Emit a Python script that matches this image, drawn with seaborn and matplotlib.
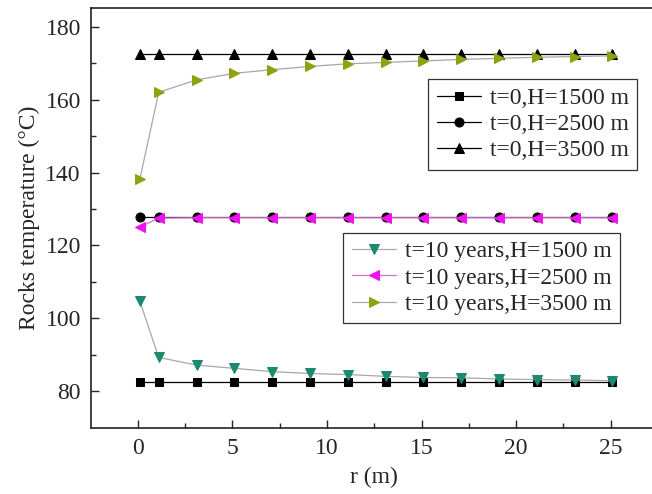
import numpy as np
import pandas as pd
import matplotlib
matplotlib.use("Agg")
import matplotlib.pyplot as plt
import seaborn as sns

r = [0.1, 1.1, 3.1, 5.1, 7.1, 9.1, 11.1, 13.1, 15.1, 17.1, 19.1, 21.1, 23.1, 25.1]

t0_1500 = [82.6] * 14
t0_2500 = [127.8] * 14
t0_3500 = [172.6] * 14
t10_1500 = [104.8, 89.3, 87.2, 86.3, 85.4, 84.9, 84.6, 84.1, 83.8, 83.7, 83.4, 83.2, 83.1, 82.9]
t10_2500 = [125.0, 127.5, 127.6, 127.6, 127.6, 127.6, 127.6, 127.6, 127.6, 127.6, 127.6, 127.6, 127.6, 127.6]
t10_3500 = [138.1, 162.0, 165.4, 167.2, 168.2, 169.1, 169.8, 170.2, 170.6, 171.0, 171.3, 171.6, 171.8, 172.0]

labels0 = ["t=0,H=1500 m", "t=0,H=2500 m", "t=0,H=3500 m"]
labels10 = ["t=10 years,H=1500 m", "t=10 years,H=2500 m", "t=10 years,H=3500 m"]

sns.set_style("ticks")
plt.rcParams["font.family"] = ["Liberation Serif", "DejaVu Serif"]
plt.rcParams["mathtext.fontset"] = "stix"

fig = plt.figure(figsize=(6.52, 4.94), dpi=100)
ax = fig.add_axes([0.139, 0.134, 0.870, 0.849])

styles0 = [("s", 6.0), ("o", 6.5), ("^", 7.0)]
h0 = []
for vals, lab, (mk, ms) in zip([t0_1500, t0_2500, t0_3500], labels0, styles0):
    sns.lineplot(x=r, y=vals, ax=ax, color="black", lw=0.9, marker=mk, markersize=ms,
                 markeredgecolor="black", markerfacecolor="black", label=lab, legend=False)
    h0.append(ax.lines[-1])

styles10 = [("v", "#1c8a70", 7.5), ("<", "#f010f0", 7.5), (">", "#8fa010", 7.5)]
h10 = []
for vals, lab, (mk, col, ms) in zip([t10_1500, t10_2500, t10_3500], labels10, styles10):
    sns.lineplot(x=r, y=vals, ax=ax, color="#a8a8a8", lw=0.9, marker=mk, markersize=ms,
                 markeredgecolor=col, markerfacecolor=col, label=lab, legend=False)
    h10.append(ax.lines[-1])
# pink line for 2500 series is tinted
h10[1].set_color("#d070d0")
h10[1].set_markerfacecolor("#f010f0")
h10[1].set_markeredgecolor("#f010f0")

ax.set_xlim(-2.5, 27.5)
ax.set_ylim(70, 185)
ax.set_xticks([0, 5, 10, 15, 20, 25])
ax.set_xticks(np.arange(2.5, 27, 5), minor=True)
ax.set_yticks([80, 100, 120, 140, 160, 180])
ax.set_yticks([90, 110, 130, 150, 170], minor=True)
ax.tick_params(which="major", direction="in", length=6, width=1, labelsize=17, pad=7)
ax.tick_params(which="minor", direction="in", length=3.5, width=1)
ax.tick_params(top=False, right=False)
for s in ax.spines.values():
    s.set_linewidth(1.2)
    s.set_color("#222222")

ax.set_xlabel("r (m)", fontsize=17, labelpad=6)
ax.set_ylabel("Rocks temperature (°C)", fontsize=17, labelpad=4)

leg_kw = dict(fontsize=17, frameon=True, fancybox=False, framealpha=1, edgecolor="#333333",
              handlelength=1.9, handletextpad=0.35, labelspacing=0.2, borderpad=0.35,
              borderaxespad=0)
leg1 = fig.legend(handles=h0, labels=labels0, loc="upper right",
                  bbox_to_anchor=(0.977, 0.840), **leg_kw)
leg2 = fig.legend(handles=h10, labels=labels10, loc="upper left",
                  bbox_to_anchor=(0.5265, 0.529), **leg_kw)
for lg in (leg1, leg2):
    lg.get_frame().set_linewidth(0.9)

fig.savefig("out.png", dpi=100)
